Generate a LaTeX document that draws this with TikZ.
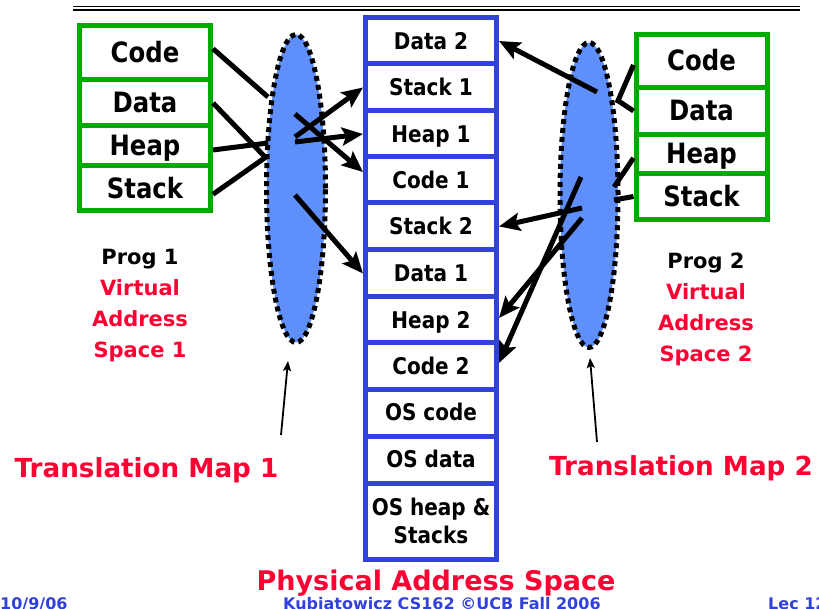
\documentclass[tikz,border=0pt]{standalone}
\usepackage{fontspec}
\setmainfont{DejaVu Sans}
\newfontfamily\cellfont[FakeStretch=0.87]{DejaVu Sans}
\usetikzlibrary{arrows.meta,shapes.geometric}
\definecolor{grn}{RGB}{0,170,0}
\definecolor{blu}{RGB}{50,64,220}
\definecolor{redt}{RGB}{255,0,51}
\definecolor{ellc}{RGB}{95,143,250}
\begin{document}
\begin{tikzpicture}[x=1pt,y=-1pt,
  vcell/.style={draw=grn, line width=5pt, minimum width=131pt, inner sep=0pt,
    font=\cellfont\bfseries\fontsize{28}{28}\selectfont, text height=20pt, text depth=0pt},
  pcell/.style={draw=blu, line width=5pt, minimum width=131pt, inner sep=0pt,
    font=\cellfont\bfseries\fontsize{23}{23}\selectfont, text height=16.5pt, text depth=0pt},
  tmap/.style={ellipse, fill=ellc, draw=black, line width=5pt, dash pattern=on 5pt off 4pt, inner sep=0pt},
  seg/.style={line width=5pt},
  marrow/.style={line width=5pt, -{Stealth[length=21pt,width=18pt,inset=4pt]}},
  thinarrow/.style={line width=1.8pt, -{Stealth[length=10pt,width=8pt,inset=2pt]}},
  lbl/.style={font=\bfseries\fontsize{21}{31}\selectfont, align=center, anchor=base},
  big/.style={font=\bfseries\fontsize{26.2}{26.2}\selectfont, text=redt, anchor=base, inner sep=0pt},
  foot/.style={font=\bfseries\fontsize{16}{16}\selectfont, text=blu, anchor=base west, inner sep=0pt}
]
\useasboundingbox (0,0) rectangle (819,609);
\clip (0,0) rectangle (819,609);
\fill[white] (0,0) rectangle (819,609);

% top rule
\draw[line width=1pt] (73,7) -- (800,7);
\draw[line width=2pt] (73,10.5) -- (800,10.5);

% ellipses (translation maps)
\node[tmap, minimum width=59pt, minimum height=308pt] (m1) at (296,188.5) {};
\node[tmap, minimum width=58pt, minimum height=305pt] (m2) at (589,195) {};

% Prog 1 virtual space
\node[vcell, minimum height=54.5pt] (lcode)  at (145,52.75) {Code};
\node[vcell, minimum height=46pt]   (ldata)  at (145,103) {Data};
\node[vcell, minimum height=40pt]   (lheap)  at (145,146) {Heap};
\node[vcell, minimum height=44.5pt] (lstack) at (145,188.25) {Stack};

% Prog 2 virtual space
\node[vcell, minimum height=53pt] (rcode)  at (701.5,61) {Code};
\node[vcell, minimum height=47pt] (rdata)  at (701.5,111) {Data};
\node[vcell, minimum height=39pt] (rheap)  at (701.5,154) {Heap};
\node[vcell, minimum height=46pt] (rstack) at (701.5,196.5) {Stack};

% physical memory
\node[pcell, minimum height=46pt] (pdata2)  at (431,41) {Data 2};
\node[pcell, minimum height=47pt] (pstack1) at (431,87.5) {Stack 1};
\node[pcell, minimum height=46pt] (pheap1)  at (431,134) {Heap 1};
\node[pcell, minimum height=46pt] (pcode1)  at (431,180) {Code 1};
\node[pcell, minimum height=47pt] (pstack2) at (431,226.5) {Stack 2};
\node[pcell, minimum height=47pt] (pdata1)  at (431,273.5) {Data 1};
\node[pcell, minimum height=46pt] (pheap2)  at (431,320) {Heap 2};
\node[pcell, minimum height=46pt] (pcode2)  at (431,366) {Code 2};
\node[pcell, minimum height=47pt] (poscode) at (431,412.5) {OS code};
\node[pcell, minimum height=47pt] (posdata) at (431,459.5) {OS data};
\node[pcell, minimum height=76.5pt] (posheap) at (431,521.25) {};
\node[font=\cellfont\bfseries\fontsize{23}{28}\selectfont, align=center, anchor=base, inner sep=0pt]
  (posheaptxt) at (431,543) {OS heap \&\\Stacks};

% coordinates on the translation maps
\coordinate (l1e) at (268,97);
\coordinate (l2e) at (266,158);
\coordinate (l3e) at (268,143);
\coordinate (l4e) at (266,157);
\coordinate (a1s) at (295,114);
\coordinate (a2s) at (295,195);
\coordinate (a3s) at (295,142);
\coordinate (a4s) at (295,137);
\coordinate (r1e) at (617,103);
\coordinate (r2e) at (617,100);
\coordinate (r3e) at (614,187);
\coordinate (r4e) at (614,200);
\coordinate (b1s) at (597,92);
\coordinate (b2s) at (582,208);
\coordinate (b3s) at (582,218);
\coordinate (b4s) at (581,177);

% Prog 1 mappings
\draw[seg] ([yshift=4pt]lcode.east) -- (l1e);
\draw[seg] (ldata.east) -- (l2e);
\draw[seg] ([yshift=-4pt]lheap.east) -- (l3e);
\draw[seg] ([yshift=-6pt]lstack.east) -- (l4e);
\draw[marrow] (a1s) -- ([yshift=8pt]pcode1.west);
\draw[marrow] (a2s) -- (pdata1.west);
\draw[marrow] (a3s) -- (pheap1.west);
\draw[marrow] (a4s) -- (pstack1.west);

% Prog 2 mappings
\draw[seg] ([yshift=-4pt]rcode.west) -- (r1e);
\draw[seg] (rdata.west) -- (r2e);
\draw[seg] ([yshift=-4pt]rheap.west) -- (r3e);
\draw[seg] (rstack.west) -- (r4e);
\draw[marrow] (b1s) -- (pdata2.east);
\draw[marrow] (b2s) -- (pstack2.east);
\draw[marrow] (b3s) -- ([yshift=2pt]pheap2.east);
\draw[marrow] (b4s) -- ([yshift=3pt]pcode2.east);

% labels (base = baseline of last line)
\node[lbl] (prog1) at (140,358) {Prog 1\\\textcolor{redt}{Virtual}\\\textcolor{redt}{Address}\\\textcolor{redt}{Space 1}};
\node[lbl] (prog2) at (706,362) {Prog 2\\\textcolor{redt}{Virtual}\\\textcolor{redt}{Address}\\\textcolor{redt}{Space 2}};

\node[big] (tm1) at (146.5,477) {Translation Map 1};
\node[big] (tm2) at (681,475) {Translation Map 2};
\coordinate (tm1tip) at (288,361);
\coordinate (tm2tip) at (590,358);
\draw[thinarrow] ([xshift=134.5pt,yshift=42pt]tm1.base) -- (tm1tip);
\draw[thinarrow] ([xshift=-84pt,yshift=33pt]tm2.base) -- (tm2tip);

\node[big, font=\bfseries\fontsize{27}{27}\selectfont] (phys) at (436,590) {Physical Address Space};

% footer
\node[foot] (date) at (0,609) {10/9/06};
\node[foot] (auth) at (283,609) {Kubiatowicz CS162 ©UCB Fall 2006};
\node[foot] (lec) at (768,609) {Lec 12};
\end{tikzpicture}
\end{document}
